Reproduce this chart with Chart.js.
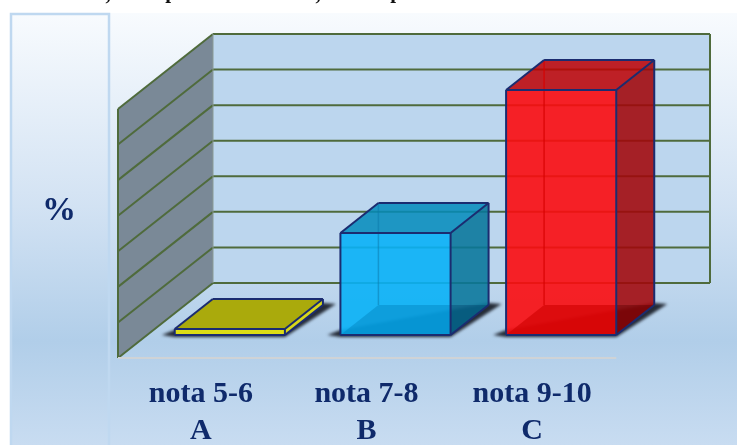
<!DOCTYPE html>
<html>
<head>
<meta charset="utf-8">
<script src="https://cdn.jsdelivr.net/npm/chart.js@4"></script>
<style>
html, body { margin: 0; padding: 0; background: #fff; }
canvas { display: block; }
</style>
</head>
<body>
<canvas id="notesChart" width="737" height="445"></canvas>
<script>
const categories = [['nota 5-6', 'A'], ['nota 7-8', 'B'], ['nota 9-10', 'C']];
const percentValues = [1.7, 28.7, 68.9];
const axisSteps = [0, 10, 20, 30, 40, 50, 60, 70];
const axisTitle = '%';

const frontColors = ['rgba(232,232,20,0.94)', 'rgba(9,177,246,0.9)', 'rgba(251,12,15,0.9)'];
const topColors = ['#aaaa0c', 'rgba(2,139,187,0.85)', 'rgba(190,0,2,0.85)'];
const sideColors = ['#d8d81a', 'rgba(8,118,155,0.88)', 'rgba(162,7,10,0.88)'];
const floorColors = [null, 'rgba(0,130,190,0.45)', 'rgba(205,0,0,0.6)'];
const floorSideColors = [null, 'rgba(0,60,100,0.35)', 'rgba(90,0,0,0.4)'];
const innerEdges = [null, 'rgba(10,120,170,0.5)', 'rgba(215,0,0,0.75)'];
const navy = '#1b2c70';
const green = '#4f6b3c';

// depth of the box and of the walls, in pixels
const barDepth = { x: 38, y: -30 };
const backShift = { x: 66, y: -52 };
const wallFront = { x: -29, y: 23 };

function poly(ctx, pts, fill) {
  ctx.beginPath();
  pts.forEach((p, i) => i ? ctx.lineTo(p[0], p[1]) : ctx.moveTo(p[0], p[1]));
  ctx.closePath();
  ctx.fillStyle = fill;
  ctx.fill();
}

function line(ctx, x1, y1, x2, y2, color, lw) {
  ctx.beginPath();
  ctx.moveTo(x1, y1);
  ctx.lineTo(x2, y2);
  ctx.strokeStyle = color;
  ctx.lineWidth = lw;
  ctx.stroke();
}

const scenePlugin = {
  id: 'scene',
  beforeDraw(chart) {
    const ctx = chart.ctx;
    ctx.save();
    // cut off line of the page above the picture
    ctx.fillStyle = '#111';
    ctx.font = 'bold 21px "Liberation Serif"';
    ctx.textAlign = 'center';
    ctx.textBaseline = 'alphabetic';
    ctx.fillText(',', 108, 0);
    ctx.fillText('p', 171, -2);
    ctx.fillText(',', 318, 0);
    ctx.fillText('p', 396, -2);

    const bg = ctx.createLinearGradient(0, 13, 0, 445);
    bg.addColorStop(0, '#f8fbfe');
    bg.addColorStop(0.45, '#d2e2f3');
    bg.addColorStop(0.76, '#b1cee9');
    bg.addColorStop(1, '#c8dcf1');
    ctx.fillStyle = bg;
    ctx.fillRect(10, 13, 727, 432);
    // left panel
    ctx.strokeStyle = '#bfd8f0';
    ctx.lineWidth = 2.5;
    ctx.strokeRect(11, 14, 98, 440);
    ctx.fillStyle = '#0f2a6b';
    ctx.font = 'bold 34px "Liberation Serif"';
    ctx.textAlign = 'center';
    ctx.textBaseline = 'middle';
    ctx.fillText(axisTitle, 59, 211);
    ctx.restore();
  },
  beforeDatasetsDraw(chart) {
    const ctx = chart.ctx;
    const ys = chart.scales.y;
    const xs = chart.scales.x;
    const backL = xs.left + backShift.x;
    const backR = xs.right + backShift.x;
    const frontL = xs.left + wallFront.x;
    const yBack = v => ys.getPixelForValue(v) + backShift.y;
    const yFront = v => ys.getPixelForValue(v) + wallFront.y;
    const lo = axisSteps[0];
    const hi = axisSteps[axisSteps.length - 1];
    const bars = chart.getDatasetMeta(0).data;
    ctx.save();

    // walls
    poly(ctx, [[backL, yBack(hi)], [backR, yBack(hi)], [backR, yBack(lo)], [backL, yBack(lo)]], '#bcd6ee');
    poly(ctx, [[frontL, yFront(hi)], [backL, yBack(hi)], [backL, yBack(lo)], [frontL, yFront(lo)]], '#7a8997');
    axisSteps.forEach(v => {
      line(ctx, backL, yBack(v), backR, yBack(v), green, 2);
      line(ctx, frontL, yFront(v), backL, yBack(v), green, 2);
    });
    line(ctx, backR, yBack(hi), backR, yBack(lo), green, 2);
    line(ctx, frontL, yFront(hi), frontL, yFront(lo), green, 2);
    line(ctx, backL, yBack(hi), backL, yBack(lo), '#8a9a94', 1);
    line(ctx, frontL, yFront(lo), bars[2].x + bars[2].width / 2, yFront(lo), '#cfd3d6', 2);

    // boxes, back parts first: the front face is the bar itself
    bars.forEach((bar, i) => {
      const l = bar.x - bar.width / 2;
      const r = bar.x + bar.width / 2;
      const t = bar.y;
      const b = bar.base;
      const dx = barDepth.x;
      const dy = barDepth.y;

      ctx.save();
      ctx.filter = 'blur(1.5px)';
      poly(ctx, [[l - 13, b], [l, b - 5], [r + dx, b + dy - 2], [r + dx + 13, b + dy - 1], [r, b + 2], [l, b + 2]], 'rgba(30,35,45,0.95)');
      ctx.restore();

      poly(ctx, [[l, t], [r, t], [r + dx, t + dy], [l + dx, t + dy]], topColors[i]);
      poly(ctx, [[r, t], [r + dx, t + dy], [r + dx, b + dy], [r, b]], sideColors[i]);
    });
    ctx.restore();
  },
  afterDatasetsDraw(chart) {
    const ctx = chart.ctx;
    const bars = chart.getDatasetMeta(0).data;
    ctx.save();
    bars.forEach((bar, i) => {
      const l = bar.x - bar.width / 2;
      const r = bar.x + bar.width / 2;
      const t = bar.y;
      const b = bar.base;
      const dx = barDepth.x;
      const dy = barDepth.y;

      // floor of the box and back edge, seen through the front
      if (floorColors[i]) {
        poly(ctx, [[l, b], [r, b], [r, b + dy], [l + dx, b + dy]], floorColors[i]);
        poly(ctx, [[r, b], [r + dx, b + dy], [r, b + dy]], floorSideColors[i]);
        line(ctx, l + dx, t + dy, l + dx, b + dy, innerEdges[i], 1.5);
      }

      // outline of the box
      ctx.lineJoin = 'round';
      line(ctx, l, t, l + dx, t + dy, navy, 2);
      line(ctx, l + dx, t + dy, r + dx, t + dy, navy, 2);
      line(ctx, r, t, r + dx, t + dy, navy, 2);
      line(ctx, r + dx, t + dy, r + dx, b + dy, navy, 2);
      line(ctx, r + dx, b + dy, r, b, navy, 2);
      line(ctx, l, t, r, t, navy, 2);
      line(ctx, r, t, r, b, navy, 2);
      line(ctx, l, t, l, b, navy, 2);
      line(ctx, l, b, r, b, navy, 2);
    });
    ctx.restore();
  }
};

new Chart(document.getElementById('notesChart'), {
  type: 'bar',
  data: {
    labels: categories,
    datasets: [{
      data: percentValues,
      backgroundColor: frontColors,
      borderWidth: 0,
      categoryPercentage: 1,
      barPercentage: 0.665
    }]
  },
  options: {
    responsive: false,
    animation: false,
    devicePixelRatio: 1,
    layout: { padding: { left: 147, right: 93, top: 86, bottom: 0 } },
    plugins: { legend: { display: false }, tooltip: { enabled: false } },
    scales: {
      x: {
        grid: { display: false },
        border: { display: false },
        afterFit(scale) { scale.height = 110; },
        ticks: {
          autoSkip: false,
          maxRotation: 0,
          labelOffset: -29,
          padding: 33,
          color: '#0f2a6b',
          font: { family: '"Liberation Serif"', size: 30, weight: 'bold', lineHeight: 1.235 }
        }
      },
      y: {
        display: false,
        min: axisSteps[0],
        max: axisSteps[axisSteps.length - 1],
        ticks: { stepSize: 10 }
      }
    }
  },
  plugins: [scenePlugin]
});
</script>
</body>
</html>
